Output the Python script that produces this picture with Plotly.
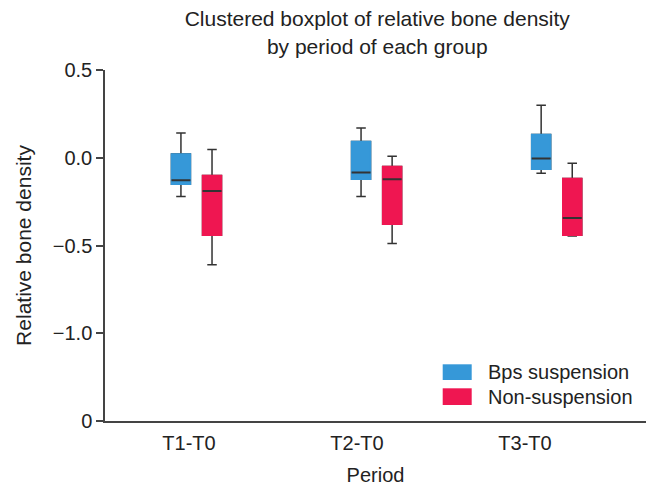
import plotly.graph_objects as go

periods = ["T1-T0", "T2-T0", "T3-T0"]
groups = ["Bps suspension", "Non-suspension"]

bps_low = [-0.221, -0.221, -0.088]
bps_q1 = [-0.151, -0.122, -0.065]
bps_median = [-0.128, -0.084, -0.004]
bps_q3 = [0.021, 0.093, 0.133]
bps_high = [0.141, 0.169, 0.299]

non_low = [-0.610, -0.488, -0.446]
non_q1 = [-0.442, -0.379, -0.442]
non_median = [-0.189, -0.122, -0.343]
non_q3 = [-0.101, -0.050, -0.118]
non_high = [0.047, 0.009, -0.031]

y_tickvals = [0.5, 0.0, -0.5, -1.0, -1.5]
y_ticktext = ["0.5", "0.0", "\u22120.5", "\u22121.0", "0"]

# layout constants (positions of the boxes relative to category index)
STEP = 1.072
OFFSETS = [-0.048, 0.137]
BOX_W = 0.113
COLORS = ["#3698d8", "#ef1651"]
DARK = "#333333"
AXIS = "#444444"
TEXT = "#222222"
FONT = "Liberation Sans, Arial, sans-serif"

# plot area in pixels (for legend placement in paper coordinates)
L, R, T, B, W, H = 105, 0, 70, 68, 646, 489
PW, PH = W - L - R, H - T - B


def px_x(px):
    return (px - L) / PW


def px_y(py):
    return (H - B - py) / PH


series = [
    (bps_low, bps_q1, bps_median, bps_q3, bps_high),
    (non_low, non_q1, non_median, non_q3, non_high),
]

fig = go.Figure()
for g, (lo, q1, med, q3, hi) in enumerate(series):
    pos = [i * STEP + OFFSETS[g] for i in range(len(periods))]
    col = COLORS[g]
    # whiskers + caps (dark)
    fig.add_trace(go.Box(x=pos, q1=q1, median=med, q3=q3, lowerfence=lo, upperfence=hi,
                         width=BOX_W, whiskerwidth=0.5, boxpoints=False,
                         line=dict(color=DARK, width=1.5), fillcolor=col,
                         name=groups[g], showlegend=False, hoverinfo="skip"))
    # box body without dark outline
    fig.add_trace(go.Box(x=pos, q1=q1, median=q1, q3=q3, lowerfence=q1, upperfence=q3,
                         width=BOX_W, whiskerwidth=0, boxpoints=False,
                         line=dict(color=col, width=1.5), fillcolor=col,
                         name=groups[g], showlegend=False, hoverinfo="skip"))
    # median line
    fig.add_trace(go.Box(x=pos, q1=med, median=med, q3=med, lowerfence=med, upperfence=med,
                         width=BOX_W, whiskerwidth=0, boxpoints=False,
                         line=dict(color=DARK, width=2), fillcolor=DARK,
                         name=groups[g], showlegend=False, hoverinfo="skip"))

# legend drawn as swatches + text
LEG_SW_X = (442.7, 471.7)
LEG_ROWS = [(364.3, 380.0), (388.3, 405.0)]
LEG_TEXT_X = 486
for g, name in enumerate(groups):
    y0, y1 = LEG_ROWS[g]
    fig.add_shape(type="rect", xref="paper", yref="paper",
                  x0=px_x(LEG_SW_X[0]), x1=px_x(LEG_SW_X[1]),
                  y0=px_y(y1), y1=px_y(y0), fillcolor=COLORS[g], line=dict(width=0))
    fig.add_annotation(xref="paper", yref="paper", x=px_x(LEG_TEXT_X), y=px_y((y0 + y1) / 2),
                       xanchor="left", yanchor="middle", text=name, showarrow=False,
                       font=dict(size=20, color=TEXT))

XR = [-0.5, 2.72]
fig.update_layout(
    width=W, height=H,
    margin=dict(l=L, r=R, t=T, b=B, autoexpand=False),
    paper_bgcolor="white", plot_bgcolor="white",
    font=dict(family=FONT, size=20, color=TEXT),
    title=dict(text="Clustered boxplot of relative bone density<br>by period of each group",
               x=0.584, xref="container", xanchor="center", yref="container", y=0.946,
               yanchor="top", font=dict(size=21, color=TEXT)),
    showlegend=False,
    xaxis=dict(range=XR, tickvals=[0, 1, 2], ticktext=periods, ticks="outside",
               ticklen=3, tickcolor="rgba(0,0,0,0)", automargin=False,
               showline=True, linecolor=AXIS, linewidth=1.5, showgrid=False,
               zeroline=False, title=dict(text="Period", font=dict(size=20, color=TEXT))),
    xaxis2=dict(range=XR, overlaying="x", anchor="y", side="bottom", automargin=False,
                tickvals=[-0.5, 0.5, 1.5], ticks="outside", ticklen=7, tickwidth=1.5,
                tickcolor=AXIS, showticklabels=False, showline=False,
                showgrid=False, zeroline=False),
    yaxis=dict(range=[-1.5, 0.5], tickvals=y_tickvals, ticktext=y_ticktext,
               ticks="outside", ticklen=7, tickwidth=1.5, tickcolor=AXIS, automargin=False,
               showline=True, linecolor=AXIS, linewidth=1.5, showgrid=False,
               zeroline=False,
               title=dict(text="Relative bone density", font=dict(size=21, color=TEXT))),
)

fig.write_html("out.html", config={"displayModeBar": False},
               post_script="document.body.style.margin='0';")
